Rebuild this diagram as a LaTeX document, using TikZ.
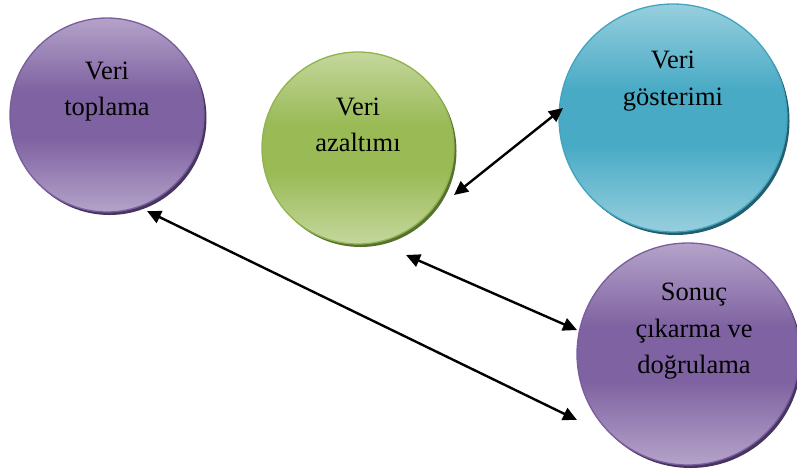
\documentclass[tikz,border=0pt]{standalone}
\usepackage{fontspec}
\setmainfont{Liberation Serif}
\usetikzlibrary{arrows.meta,calc}

% Office-style palette: light rim, saturated middle, outline, bevel shade
\definecolor{plumLight}{HTML}{B4A3C9}
\definecolor{plumMid}{HTML}{7F62A1}
\definecolor{plumEdge}{HTML}{7A5D9E}
\definecolor{plumShade}{HTML}{46355F}
\definecolor{leafLight}{HTML}{C4D79D}
\definecolor{leafMid}{HTML}{99BA55}
\definecolor{leafEdge}{HTML}{90B44D}
\definecolor{leafShade}{HTML}{587030}
\definecolor{seaLight}{HTML}{97CFDE}
\definecolor{seaMid}{HTML}{48AAC5}
\definecolor{seaEdge}{HTML}{43A4BF}
\definecolor{seaShade}{HTML}{245E6D}

% vertical glow: pale at top and bottom, full colour across the middle
\pgfdeclareverticalshading{plumBall}{100bp}{color(0bp)=(plumLight); color(25bp)=(plumLight);
  color(44bp)=(plumMid); color(56bp)=(plumMid); color(75bp)=(plumLight); color(100bp)=(plumLight)}
\pgfdeclareverticalshading{leafBall}{100bp}{color(0bp)=(leafLight); color(25bp)=(leafLight);
  color(44bp)=(leafMid); color(56bp)=(leafMid); color(75bp)=(leafLight); color(100bp)=(leafLight)}
\pgfdeclareverticalshading{seaBall}{100bp}{color(0bp)=(seaLight); color(25bp)=(seaLight);
  color(44bp)=(seaMid); color(56bp)=(seaMid); color(75bp)=(seaLight); color(100bp)=(seaLight)}

\tikzset{
  ball/.style={circle, inner sep=0pt, line width=1.3pt, draw=#1Edge, shading=#1Ball},
  rim/.style={fill=#1Shade},
  lbl/.style={align=center, inner sep=0pt, text=black,
    font=\fontsize{26.5}{36.5}\selectfont},
  link/.style={{Triangle[length=14pt,width=13pt]}-{Triangle[length=14pt,width=13pt]},
    line width=2.4pt, black}
}

\begin{document}
\begin{tikzpicture}[x=1pt,y=-1pt]
  \useasboundingbox (0,0) rectangle (797,472);

  % centres of the four stages
  \coordinate (p1) at (107,115);
  \coordinate (p2) at (358,148);
  \coordinate (p3) at (673,118);
  \coordinate (p4) at (688,354);

  % dark bevel under the lower right of each circle
  \fill[rim=plum] ($(p1)+(2.5,3)$) circle (97);
  \fill[rim=leaf] ($(p2)+(2.5,3)$) circle (96);
  \fill[rim=sea]  ($(p3)+(2.5,3)$) circle (114);
  \fill[rim=plum] ($(p4)+(2.5,3)$) circle (111);

  % the four stages
  \node[ball=plum, minimum size=194pt] (c1) at (p1) {};
  \node[ball=leaf, minimum size=192pt] (c2) at (p2) {};
  \node[ball=sea,  minimum size=228pt] (c3) at (p3) {};
  \node[ball=plum, minimum size=222pt] (c4) at (p4) {};

  % captions
  \node[lbl] (t1) at (107,91.5) {Veri\\toplama};
  \node[lbl] (t2) at (358,124.8) {Veri\\azaltımı};
  \node[lbl] (t3) at (673,81.3) {Veri\\gösterimi};
  \node[lbl] (t4) at (694,331.3) {Sonuç\\çıkarma ve\\doğrulama};

  % arrow ends, just off each circle
  \coordinate (a1g) at ($(c2)+(96,47)$);
  \coordinate (a1t) at ($(c3)+(-110,-10)$);
  \coordinate (a2g) at ($(c2)+(48,107)$);
  \coordinate (a2s) at ($(c4)+(-111,-24)$);
  \coordinate (a3v) at ($(c1)+(40,96)$);
  \coordinate (a3s) at ($(c4)+(-111,66)$);

  \draw[link] (a1g) -- (a1t);
  \draw[link] (a2g) -- (a2s);
  \draw[link] (a3v) -- (a3s);
\end{tikzpicture}
\end{document}
